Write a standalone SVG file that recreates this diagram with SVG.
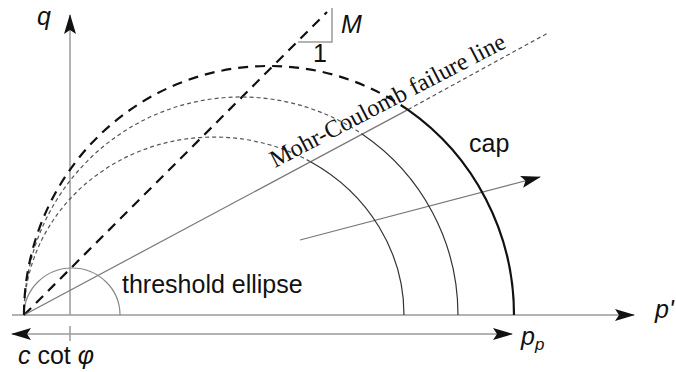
<svg xmlns="http://www.w3.org/2000/svg" width="676" height="372" viewBox="0 0 676 372">
<style>
.ax{stroke:#9a9a9a;stroke-width:1.5;fill:none}
.thin{stroke:#333;stroke-width:1.2;fill:none}
.thick{stroke:#111;stroke-width:2.2;fill:none}
.dthick{stroke:#111;stroke-width:2.2;fill:none;stroke-dasharray:10 7}
.dthin{stroke:#555;stroke-width:1.2;fill:none;stroke-dasharray:4 3}
.lbl{font-family:"Liberation Sans",Arial,sans-serif;font-size:25px;fill:#111}
.it{font-style:italic}
.serif{font-family:"Liberation Serif","Times New Roman",serif;font-size:24.5px;fill:#111}
</style>
<defs>
<marker id="ah" viewBox="0 0 20 12" refX="19" refY="6" markerWidth="20" markerHeight="12" markerUnits="userSpaceOnUse" orient="auto-start-reverse">
<path d="M0,0 L20,6 L0,12 L4,6 z" fill="#111"/>
</marker>
</defs>
<rect width="676" height="372" fill="#fff"/>
<g id="axes">
<line class="ax" x1="12" y1="315" x2="634" y2="315" marker-end="url(#ah)"/>
<line class="ax" x1="70" y1="315" x2="70" y2="15" marker-end="url(#ah)"/>
<line class="ax" x1="12" y1="334" x2="512" y2="334" marker-start="url(#ah)" marker-end="url(#ah)"/>
<line class="ax" x1="70" y1="326" x2="70" y2="341"/>
<polyline class="ax" points="298,42 332,42 332,8"/>
</g>
<g id="connectors">
<line class="dthick" x1="24" y1="315" x2="327" y2="12"/>
<line stroke="#777" stroke-width="1.2" x1="24" y1="315" x2="408" y2="109.6"/>
<line class="dthin" x1="408" y1="109.6" x2="548" y2="33"/>
<line stroke="#777" stroke-width="1.2" x1="300" y1="240" x2="540" y2="177" marker-end="url(#ah)"/>
</g>
<g id="threshold-ellipse">
<path d="M24,315 A48,47 0 0 1 120,315" stroke="#888" stroke-width="1.2" fill="none"/>
</g>
<g id="yield-1">
<path class="dthin" d="M24,315 A190,178 0 0 1 310.5,161.7"/>
<path class="thin" d="M310.5,161.7 A190,178 0 0 1 404,315"/>
</g>
<g id="yield-2">
<path class="dthin" d="M24,315 A217,218 0 0 1 362,134"/>
<path class="thin" d="M362,134 A217,218 0 0 1 458,315"/>
</g>
<g id="cap">
<path class="dthick" d="M24,315 A245,249 0 0 1 407.7,109.7"/>
<path class="thick" d="M407.7,109.7 A245,249 0 0 1 514,315"/>
</g>
<g id="labels">
<text class="lbl it" x="37" y="25">q</text>
<text class="lbl it" x="341" y="33">M</text>
<text class="lbl" x="320" y="62" text-anchor="middle">1</text>
<text class="lbl" x="469" y="152">cap</text>
<text class="lbl" x="122" y="293">threshold ellipse</text>
<text class="serif" transform="translate(275,168) rotate(-27.5)" textLength="262" lengthAdjust="spacingAndGlyphs">Mohr-Coulomb failure line</text>
<text class="lbl" x="18" y="364"><tspan class="it">c</tspan> cot <tspan class="it">φ</tspan></text>
<text class="lbl it" x="521" y="345">p<tspan font-size="17" dy="5">p</tspan></text>
<text class="lbl it" x="655" y="318">p'</text>
</g>
</svg>
